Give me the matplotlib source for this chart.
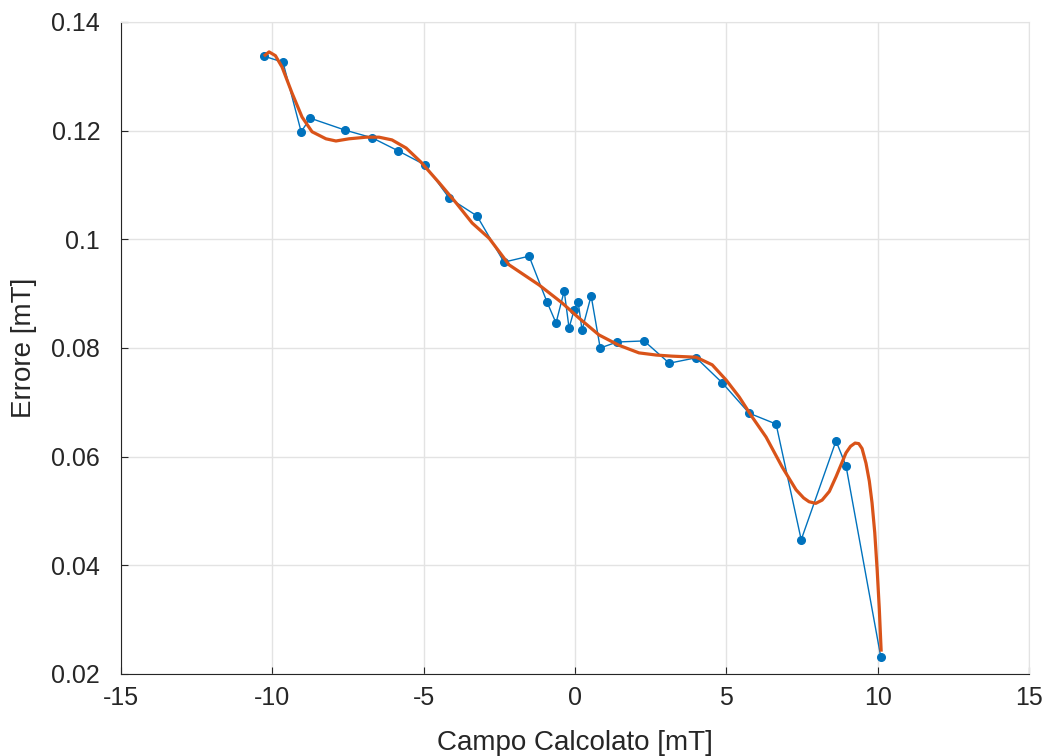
import numpy as np
import matplotlib
matplotlib.use('Agg')
import matplotlib.pyplot as plt

plt.rcParams['font.family'] = ['Liberation Sans', 'DejaVu Sans']

# misure (punti blu)
campo = [-10.27, -9.65, -9.05, -8.75, -7.60, -6.71, -5.85, -4.96, -4.16, -3.24,
         -2.35, -1.52, -0.93, -0.63, -0.36, -0.20, -0.03, 0.10, 0.23, 0.53,
         0.83, 1.39, 2.28, 3.11, 4.00, 4.86, 5.75, 6.64, 7.47, 8.62, 8.95, 10.10]
errore = [0.1337, 0.1326, 0.1198, 0.1223, 0.1201, 0.1187, 0.1163, 0.1137, 0.1076, 0.1043,
          0.0958, 0.0969, 0.0885, 0.0846, 0.0905, 0.0837, 0.0870, 0.0885, 0.0833, 0.0896,
          0.0800, 0.0811, 0.0813, 0.0772, 0.0782, 0.0736, 0.0680, 0.0660, 0.0447, 0.0629,
          0.0583, 0.0231]

# curva di fit (arancione)
fit_x = [-10.24, -10.11, -9.90, -9.68, -9.35, -9.02, -8.69, -8.23, -7.90, -7.47, -6.90,
         -6.48, -6.05, -5.58, -5.09, -4.49, -3.93, -3.40, -2.84, -2.18, -1.19,
         -0.43, 0.13, 0.79, 1.45, 2.11, 2.68, 3.20, 4.00, 4.53, 4.99,
         5.42, 5.85, 6.31, 6.84, 7.30, 7.55, 7.73, 7.95, 8.16, 8.40, 8.62, 8.95, 9.10, 9.25,
         9.37, 9.48, 9.61, 9.72, 9.81, 9.90, 9.98, 10.05, 10.11]
fit_y = [0.1339, 0.1345, 0.1338, 0.1317, 0.1269, 0.1225, 0.1198, 0.1185, 0.1181, 0.1185, 0.1188,
         0.1188, 0.1183, 0.1168, 0.1142, 0.1104, 0.1067, 0.1030, 0.1002, 0.0953, 0.0916,
         0.0883, 0.0855, 0.0824, 0.0805, 0.0791, 0.0787, 0.0785, 0.0783, 0.0769, 0.0741,
         0.0710, 0.0673, 0.0636, 0.0581, 0.0539, 0.0524, 0.0517, 0.0514, 0.0520, 0.0536, 0.0563,
         0.0607, 0.0619, 0.0625, 0.0624, 0.0615, 0.0588, 0.0555, 0.0515, 0.0460, 0.0391,
         0.0320, 0.0244]

fig = plt.figure(figsize=(10.48, 7.56), dpi=100)
ax = fig.add_axes([0.1155, 0.1085, 0.8665, 0.8624])

ax.plot(campo, errore, '.-', color='#0072BD', lw=1, ms=11)
ax.plot(fit_x, fit_y, '-', color='#D95319', lw=2.3)

ax.set_xlim(-15, 15)
ax.set_ylim(0.02, 0.14)
ax.set_xticks(np.arange(-15, 16, 5))
ax.set_yticks(np.arange(0.02, 0.141, 0.02))
ax.set_xticklabels(['-15', '-10', '-5', '0', '5', '10', '15'])
ax.set_yticklabels(['0.02', '0.04', '0.06', '0.08', '0.1', '0.12', '0.14'])

ax.grid(True, color='#e3e3e3', lw=1)
ax.set_axisbelow(True)
for s in ['top', 'right']:
    ax.spines[s].set_color('#e3e3e3')
for s in ['left', 'bottom']:
    ax.spines[s].set_color('#262626')
ax.tick_params(direction='in', length=5, labelsize=18, colors='#262626')
ax.tick_params(axis='y', pad=15)
ax.tick_params(axis='x', pad=9)

ax.set_xlabel('Campo Calcolato [mT]', fontsize=20, color='#262626', labelpad=14)
ax.set_ylabel('Errore [mT]', fontsize=20, color='#262626', labelpad=10)

fig.savefig('out.png', dpi=100)
